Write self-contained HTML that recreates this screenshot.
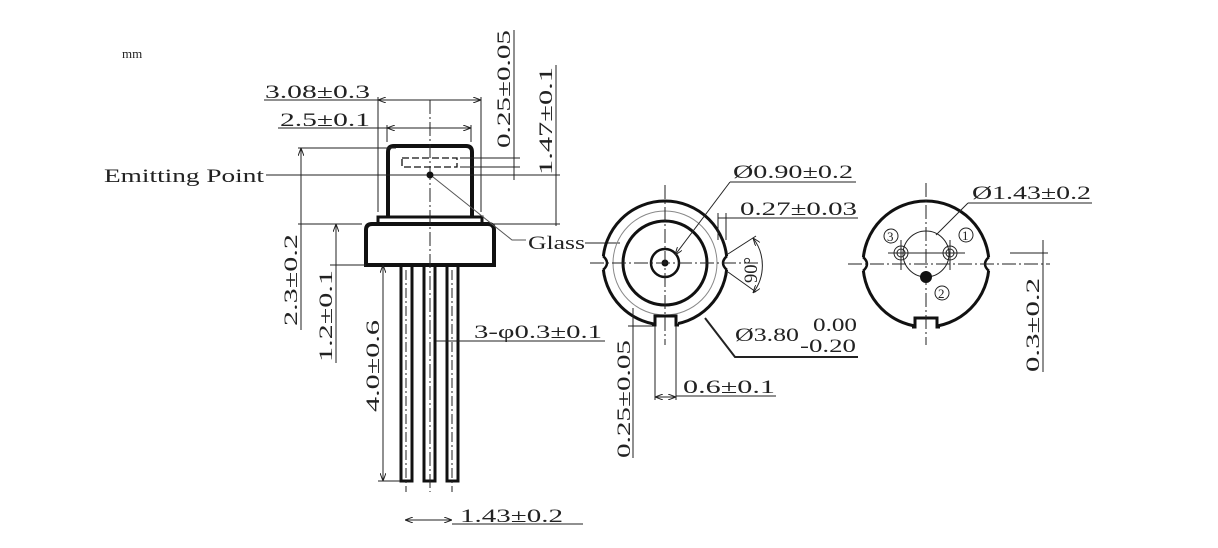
<!DOCTYPE html>
<html><head><meta charset="utf-8"><style>
html,body{margin:0;padding:0;background:#fff}
svg{display:block}
text{font-family:"Liberation Serif","Noto Serif CJK SC",serif;font-size:19px;fill:#222}
</style></head><body>
<svg width="1218" height="548" viewBox="0 0 1218 548" xmlns="http://www.w3.org/2000/svg">
<defs><marker id="a" markerWidth="8" markerHeight="6" refX="8" refY="3" orient="auto-start-reverse"><path d="M0,0 L8,3 L0,6" fill="none" stroke="#222" stroke-width="1"/></marker></defs>
<text x="122" y="58" style="font-size:13px;font-family:'Liberation Serif',serif">mm</text>

<g fill="none" stroke="#111">
<path d="M388,217 L388,152 Q388,146 394,146 L466,146 Q472,146 472,152 L472,217" stroke-width="4"/>
<rect x="378" y="217" width="104" height="7" stroke-width="3"/>
<path d="M366,265 L366,230 Q366,224 372,224 L488,224 Q494,224 494,230 L494,265 Z" stroke-width="4"/>
<rect x="401" y="265" width="11" height="216" stroke-width="3"/>
<rect x="424" y="265" width="11" height="216" stroke-width="3"/>
<rect x="447" y="265" width="11" height="216" stroke-width="3"/>
<rect x="402" y="158" width="55" height="9" stroke-width="1.3" stroke-dasharray="7,3"/>
</g>
<g stroke="#222" stroke-width="1" fill="none">
<line x1="430" y1="100" x2="430" y2="492" stroke-dasharray="14,3,2,3"/>
<line x1="406" y1="270" x2="406" y2="492" stroke-dasharray="10,3,2,3"/>
<line x1="452" y1="270" x2="452" y2="492" stroke-dasharray="10,3,2,3"/>
<line x1="266" y1="175" x2="560" y2="175"/>
<line x1="378" y1="97" x2="378" y2="212"/><line x1="481" y1="97" x2="481" y2="212"/>
<line x1="378" y1="100" x2="481" y2="100" marker-start="url(#a)" marker-end="url(#a)"/>
<line x1="264" y1="100" x2="378" y2="100"/>
<line x1="387" y1="125" x2="387" y2="142"/><line x1="471" y1="125" x2="471" y2="142"/>
<line x1="387" y1="128" x2="471" y2="128" marker-start="url(#a)" marker-end="url(#a)"/>
<line x1="278" y1="128" x2="387" y2="128"/>
<line x1="460" y1="158" x2="520" y2="158"/><line x1="460" y1="167" x2="520" y2="167"/>
<line x1="514" y1="30" x2="514" y2="180"/>
<line x1="556" y1="65" x2="556" y2="226"/>
<line x1="490" y1="224" x2="560" y2="224"/>
<line x1="298" y1="148" x2="396" y2="148"/>
<line x1="301" y1="148" x2="301" y2="330" marker-start="url(#a)"/>
<line x1="298" y1="224" x2="362" y2="224"/>
<line x1="336" y1="224" x2="336" y2="363" marker-start="url(#a)"/>
<line x1="330" y1="265" x2="366" y2="265"/>
<line x1="383" y1="265" x2="383" y2="481" marker-start="url(#a)" marker-end="url(#a)"/>
<line x1="378" y1="481" x2="400" y2="481"/>
<line x1="436" y1="341" x2="605" y2="341"/>
<line x1="405" y1="520" x2="452" y2="520" marker-start="url(#a)" marker-end="url(#a)"/>
<line x1="452" y1="524" x2="583" y2="524"/>
<polyline points="433,177 512,240 526,240" stroke="#555"/>
<line x1="585" y1="243" x2="620" y2="243"/>
</g>
<circle cx="430" cy="175" r="3.5" fill="#111"/>
<text x="104" y="182" textLength="160" lengthAdjust="spacingAndGlyphs">Emitting Point</text>
<text x="265" y="98" textLength="105" lengthAdjust="spacingAndGlyphs">3.08±0.3</text>
<text x="280" y="126" textLength="90" lengthAdjust="spacingAndGlyphs">2.5±0.1</text>
<text x="528" y="249" textLength="57" lengthAdjust="spacingAndGlyphs">Glass</text>
<text x="474" y="338" textLength="128" lengthAdjust="spacingAndGlyphs">3-φ0.3±0.1</text>
<text x="460" y="522" textLength="103" lengthAdjust="spacingAndGlyphs">1.43±0.2</text>
<text transform="translate(510,148) rotate(-90)" textLength="118" lengthAdjust="spacingAndGlyphs">0.25±0.05</text>
<text transform="translate(552,175) rotate(-90)" textLength="108" lengthAdjust="spacingAndGlyphs">1.47±0.1</text>
<text transform="translate(297,326) rotate(-90)" textLength="92" lengthAdjust="spacingAndGlyphs">2.3±0.2</text>
<text transform="translate(332,362) rotate(-90)" textLength="92" lengthAdjust="spacingAndGlyphs">1.2±0.1</text>
<text transform="translate(379,412) rotate(-90)" textLength="92" lengthAdjust="spacingAndGlyphs">4.0±0.6</text>

<g fill="none" stroke="#111">
<circle cx="665" cy="263" r="62" stroke-width="3"/>
<circle cx="665" cy="263" r="52" stroke="#888" stroke-width="1"/>
<circle cx="665" cy="263" r="42" stroke-width="3"/>
<circle cx="665" cy="263" r="14" stroke-width="2.5"/>
</g>
<rect x="598" y="256" width="12" height="14" fill="#fff"/>
<rect x="720" y="256" width="12" height="14" fill="#fff"/>
<path d="M603,256 Q611,263 603,270 M727,256 Q719,263 727,270" fill="none" stroke="#111" stroke-width="2.5"/>
<rect x="654" y="318" width="24" height="12" fill="#fff"/>
<path d="M652,325 L655,325 L655,316 L676,316 L676,325 L679,325" fill="none" stroke="#111" stroke-width="3"/>
<circle cx="665" cy="263" r="3.5" fill="#111"/>
<g stroke="#222" stroke-width="1" fill="none">
<line x1="665" y1="185" x2="665" y2="345" stroke-dasharray="14,3,2,3"/>
<line x1="590" y1="263" x2="760" y2="263" stroke-dasharray="14,3,2,3"/>
<line x1="730" y1="182" x2="856" y2="182"/>
<line x1="730" y1="182" x2="675" y2="255" marker-end="url(#a)"/>
<line x1="718" y1="218" x2="858" y2="218"/>
<line x1="718" y1="213" x2="718" y2="240"/><line x1="726" y1="213" x2="726" y2="240"/>
<path d="M753,238 A45,45 0 0 1 753,293" marker-start="url(#a)" marker-end="url(#a)"/>
<line x1="728" y1="254" x2="756" y2="236"/><line x1="728" y1="272" x2="756" y2="292"/>
<polyline points="705,318 735,357 858,357" stroke-width="2"/>
<line x1="633" y1="308" x2="633" y2="458"/>
<line x1="628" y1="326" x2="652" y2="326"/>
<line x1="655" y1="326" x2="655" y2="400"/><line x1="676" y1="326" x2="676" y2="400"/>
<line x1="655" y1="397" x2="676" y2="397" marker-start="url(#a)" marker-end="url(#a)"/>
<line x1="676" y1="396" x2="776" y2="396"/>
</g>
<text x="733" y="178" textLength="120" lengthAdjust="spacingAndGlyphs">Ø0.90±0.2</text>
<text x="740" y="215" textLength="117" lengthAdjust="spacingAndGlyphs">0.27±0.03</text>
<text transform="translate(757,283) rotate(-90)" textLength="26" lengthAdjust="spacingAndGlyphs">90°</text>
<text x="735" y="341" textLength="64" lengthAdjust="spacingAndGlyphs">Ø3.80</text>
<text x="813" y="331" textLength="44" lengthAdjust="spacingAndGlyphs">0.00</text>
<text x="800" y="352" textLength="56" lengthAdjust="spacingAndGlyphs">-0.20</text>
<text x="683" y="393" textLength="92" lengthAdjust="spacingAndGlyphs">0.6±0.1</text>
<text transform="translate(630,458) rotate(-90)" textLength="118" lengthAdjust="spacingAndGlyphs">0.25±0.05</text>

<g fill="none" stroke="#111">
<circle cx="926" cy="264" r="63" stroke-width="3"/>
</g>
<rect x="858" y="257" width="12" height="14" fill="#fff"/>
<rect x="982" y="257" width="12" height="14" fill="#fff"/>
<path d="M863,257 Q871,264 863,271 M989,257 Q981,264 989,271" fill="none" stroke="#111" stroke-width="2.5"/>
<rect x="914" y="320" width="24" height="12" fill="#fff"/>
<path d="M912,327 L915,327 L915,318 L937,318 L937,327 L940,327" fill="none" stroke="#111" stroke-width="3"/>
<g stroke="#222" stroke-width="1" fill="none">
<circle cx="926" cy="254" r="23"/>
<circle cx="901" cy="253" r="7"/><circle cx="901" cy="253" r="4"/>
<circle cx="950" cy="253" r="7"/><circle cx="950" cy="253" r="4"/>
<line x1="888" y1="253" x2="965" y2="253"/>
<line x1="901" y1="240" x2="901" y2="270"/><line x1="950" y1="240" x2="950" y2="270"/>
<line x1="926" y1="183" x2="926" y2="345" stroke-dasharray="14,3,2,3"/>
<line x1="848" y1="264" x2="1050" y2="264" stroke-dasharray="14,3,2,3"/>
<line x1="968" y1="203" x2="1092" y2="203"/>
<line x1="968" y1="203" x2="936" y2="235"/>
<line x1="1010" y1="253" x2="1048" y2="253"/>
<line x1="1043" y1="240" x2="1043" y2="372"/>
</g>
<circle cx="926" cy="277" r="6" fill="#111"/>
<g fill="none" stroke="#222" stroke-width="1"><circle cx="891" cy="236" r="7"/><circle cx="966" cy="235" r="7"/><circle cx="942" cy="293" r="7"/></g>
<text x="887" y="241" style="font-size:13px">3</text>
<text x="962" y="240" style="font-size:13px">1</text>
<text x="938" y="298" style="font-size:13px">2</text>
<text x="972" y="199" textLength="119" lengthAdjust="spacingAndGlyphs">Ø1.43±0.2</text>
<text transform="translate(1039,372) rotate(-90)" textLength="94" lengthAdjust="spacingAndGlyphs">0.3±0.2</text>
</svg>
</body></html>
